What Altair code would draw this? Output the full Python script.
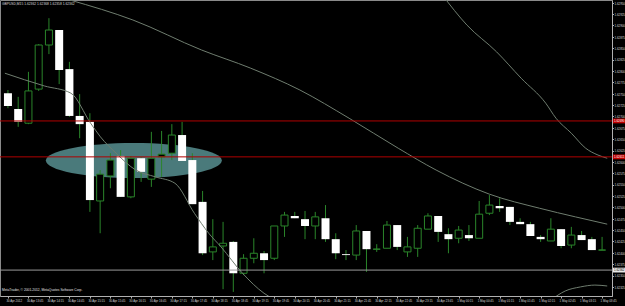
import json
import altair as alt
import pandas as pd

# ---------------- data ----------------
bar_index = list(range(59))
open_ = [1.62751, 1.62716, 1.62685, 1.62760, 1.62857, 1.62890, 1.62804, 1.62701, 1.62688, 1.62514,
         1.62569, 1.62613, 1.62523, 1.62608, 1.62562, 1.62611, 1.62619, 1.62659, 1.62604, 1.62512,
         1.62402, 1.62415, 1.62424, 1.62355, 1.62388, 1.62399, 1.62388, 1.62459, 1.62481, 1.62474,
         1.62459, 1.62476, 1.62430, 1.62397, 1.62395, 1.62448, 1.62408, 1.62410, 1.62461, 1.62402,
         1.62410, 1.62452, 1.62481, 1.62441, 1.62432, 1.62439, 1.62432, 1.62487, 1.62503, 1.62501,
         1.62468, 1.62463, 1.62435, 1.62426, 1.62452, 1.62417, 1.62439, 1.62430, 1.62406]
high = [1.62758, 1.62743, 1.62798, 1.62859, 1.62916, 1.62890, 1.62820, 1.62749, 1.62707, 1.62582,
        1.62619, 1.62626, 1.62613, 1.62611, 1.62666, 1.62668, 1.62683, 1.62688, 1.62619, 1.62536,
        1.62474, 1.62468, 1.62426, 1.62397, 1.62432, 1.62404, 1.62459, 1.62490, 1.62490, 1.62492,
        1.62490, 1.62505, 1.62443, 1.62406, 1.62461, 1.62448, 1.62419, 1.62470, 1.62461, 1.62435,
        1.62461, 1.62487, 1.62481, 1.62454, 1.62459, 1.62461, 1.62514, 1.62527, 1.62520, 1.62501,
        1.62476, 1.62468, 1.62439, 1.62476, 1.62452, 1.62457, 1.62448, 1.62435, 1.62435]
low = [1.62718, 1.62677, 1.62683, 1.62756, 1.62837, 1.62771, 1.62699, 1.62652, 1.62490, 1.62443,
       1.62542, 1.62523, 1.62520, 1.62556, 1.62545, 1.62567, 1.62604, 1.62602, 1.62507, 1.62395,
       1.62384, 1.62320, 1.62314, 1.62351, 1.62377, 1.62355, 1.62384, 1.62435, 1.62476, 1.62430,
       1.62430, 1.62424, 1.62386, 1.62384, 1.62384, 1.62358, 1.62402, 1.62410, 1.62406, 1.62391,
       1.62391, 1.62452, 1.62424, 1.62399, 1.62421, 1.62426, 1.62432, 1.62483, 1.62490, 1.62461,
       1.62463, 1.62437, 1.62424, 1.62426, 1.62410, 1.62410, 1.62428, 1.62406, 1.62406]
close = [1.62723, 1.62688, 1.62756, 1.62857, 1.62890, 1.62802, 1.62701, 1.62683, 1.62516, 1.62573,
         1.62604, 1.62523, 1.62608, 1.62578, 1.62608, 1.62617, 1.62659, 1.62602, 1.62507, 1.62399,
         1.62413, 1.62421, 1.62355, 1.62388, 1.62399, 1.62384, 1.62459, 1.62483, 1.62476, 1.62459,
         1.62479, 1.62430, 1.62399, 1.62395, 1.62448, 1.62408, 1.62408, 1.62461, 1.62413, 1.62413,
         1.62454, 1.62481, 1.62446, 1.62430, 1.62450, 1.62432, 1.62485, 1.62505, 1.62498, 1.62468,
         1.62463, 1.62437, 1.62430, 1.62452, 1.62415, 1.62439, 1.62428, 1.62406, 1.62406]

# Bollinger-style bands (bar position, price)
mid_i = [6.05, 12.2, 18.9, 23.7, 28.5, 33.3, 38.1, 41.8, 47.0, 51.9, 55.4, 58.5]
mid_p = [1.62956, 1.62912, 1.62846, 1.62806, 1.62758, 1.62696, 1.62630, 1.62582, 1.62529, 1.62498, 1.62479, 1.62463]
up_i = [42.4, 44.8, 47.7, 50.1, 52.5, 53.5, 55.0, 56.4, 57.6, 58.5]
up_p = [1.62967, 1.62901, 1.62842, 1.62784, 1.62729, 1.62696, 1.62663, 1.62630, 1.62615, 1.62608]
lo1_i = [-0.3, 3.55, 6.15, 8.07, 9.03, 10.56, 12.48, 14.4, 16.3, 18.2, 19.6, 20.8, 22.9, 25.0, 26.1]
lo1_p = [1.62795, 1.62767, 1.62751, 1.62685, 1.62655, 1.62619, 1.62582, 1.62567, 1.62553, 1.62487, 1.62443, 1.62413, 1.62355, 1.62311, 1.62296]
lo2_i = [53.0, 54.4, 55.9, 57.3, 58.5]
lo2_p = [1.62296, 1.62316, 1.62325, 1.62329, 1.62327]

red_levels = [1.62690, 1.62611]
gray_level = [1.62362]

price_ticks = [1.62950, 1.62925, 1.62900, 1.62875, 1.62850, 1.62825, 1.62800, 1.62775, 1.62750,
               1.62725, 1.62700, 1.62675, 1.62650, 1.62625, 1.62600, 1.62575, 1.62550, 1.62525,
               1.62500, 1.62475, 1.62450, 1.62425, 1.62400, 1.62375, 1.62350, 1.62325]
time_labels = ["30 Apr 2012", "30 Apr 13:45", "30 Apr 14:15", "30 Apr 14:45", "30 Apr 15:15",
               "30 Apr 15:45", "30 Apr 16:15", "30 Apr 16:45", "30 Apr 17:15", "30 Apr 17:45",
               "30 Apr 18:15", "30 Apr 18:45", "30 Apr 19:15", "30 Apr 19:45", "30 Apr 20:15",
               "30 Apr 20:45", "30 Apr 21:15", "30 Apr 21:45", "30 Apr 22:15", "30 Apr 22:45",
               "30 Apr 23:15", "30 Apr 23:45", "1 May 00:15", "1 May 00:45", "1 May 01:15",
               "1 May 01:45", "1 May 02:15", "1 May 02:45", "1 May 03:15", "1 May 03:45"]
time_label_bars = list(range(0, 59, 2))

ellipse_center_i = [12.29]
ellipse_center_p = [1.62603]

title_text = "GBPUSD,M15  1.62362 1.62368 1.62358 1.62362"
copyright_text = "MetaTrader, \u00a9 2001-2012, MetaQuotes Software Corp."

# ---------------- tables ----------------
candles = pd.DataFrame({"i": bar_index, "open": open_, "high": high, "low": low, "close": close})
candles["bull"] = candles["close"] >= candles["open"]
bull = candles[candles["bull"]]
bear = candles[~candles["bull"]]

bands = pd.concat([
    pd.DataFrame({"i": mid_i, "p": mid_p, "seg": "mid"}),
    pd.DataFrame({"i": up_i, "p": up_p, "seg": "up"}),
    pd.DataFrame({"i": lo1_i, "p": lo1_p, "seg": "lo1"}),
    pd.DataFrame({"i": lo2_i, "p": lo2_p, "seg": "lo2"}),
])

W, H = 612, 296
GREEN = "#2a852a"
FONT = "Liberation Sans"
AXFS = 2.9
TXFS = 3.3

xs = alt.Scale(domain=[-0.288, 58.48], nice=False, zero=False)
ys = alt.Scale(domain=[1.62305, 1.62956], nice=False, zero=False)

label_expr = json.dumps(time_labels) + "[round(datum.value / 2)]"

x_axis = alt.Axis(orient="bottom", values=time_label_bars, labelExpr=label_expr, labelAlign="left",
                  labelOffset=-2, labelFontSize=AXFS, labelFont=FONT, labelColor="#d8d8d8",
                  tickColor="#b0b0b0", tickSize=2, domainColor="#b0b0b0", labelPadding=1.5,
                  grid=False, title=None, labelOverlap=False, labelFlush=False, labelBound=False)
y_axis = alt.Axis(orient="right", values=price_ticks, format=".5f", labelAlign="left",
                  labelFontSize=AXFS, labelFont=FONT, labelColor="#d8d8d8", tickColor="#b0b0b0",
                  tickSize=1.5, domainColor="#b0b0b0", labelPadding=0.5, grid=False, title=None,
                  labelOverlap=False, labelFlush=False, labelBound=False)


def X(field):
    return alt.X(field, scale=xs, axis=x_axis)


def Y(field):
    return alt.Y(field, scale=ys, axis=y_axis)


ellipse_path = "M-1,0 A1,0.2 0 1,0 1,0 A1,0.2 0 1,0 -1,0 Z"
ellipse = alt.Chart(pd.DataFrame({"i": ellipse_center_i, "p": ellipse_center_p})).mark_point(
    shape=ellipse_path, size=176 * 176, filled=True, color="#4a7a7b", opacity=1, strokeWidth=0
).encode(x=X("i:Q"), y=Y("p:Q"))

wicks = alt.Chart(candles).mark_rule(color=GREEN, strokeWidth=1).encode(
    x=X("i:Q"), y=Y("low:Q"), y2="high:Q",
)

bull_bodies = alt.Chart(bull).mark_bar(width=7, fill="black", stroke=GREEN, strokeWidth=1).encode(
    x=X("i:Q"), y=Y("open:Q"), y2="close:Q"
)
bear_bodies = alt.Chart(bear).mark_bar(width=8, fill="white", strokeWidth=0).encode(
    x=X("i:Q"), y=Y("open:Q"), y2="close:Q"
)

band_lines = alt.Chart(bands).mark_line(color="#6f7d6f", strokeWidth=1, clip=True,
                                        interpolate="monotone").encode(
    x=X("i:Q"), y=Y("p:Q"), detail="seg:N"
)

red_lines = alt.Chart(pd.DataFrame({"p": red_levels})).mark_rule(color="#b00000", strokeWidth=1).encode(
    y=Y("p:Q")
)
gray_line = alt.Chart(pd.DataFrame({"p": gray_level})).mark_rule(color="#9a9a9a", strokeWidth=1).encode(
    y=Y("p:Q")
)

box_path = "M-1,-0.4 L1,-0.4 L1,0.4 L-1,0.4 Z"
red_boxes = alt.Chart(pd.DataFrame({"p": red_levels})).mark_point(
    shape=box_path, size=144, filled=True, color="#c00000", opacity=1, strokeWidth=0
).encode(x=alt.value(619), y=Y("p:Q"))
red_texts = alt.Chart(pd.DataFrame({"p": red_levels})).mark_text(
    align="left", baseline="middle", fontSize=AXFS, font=FONT, color="white"
).encode(x=alt.value(614), y=Y("p:Q"), text=alt.Text("p:Q", format=".5f"))
gray_boxes = alt.Chart(pd.DataFrame({"p": gray_level})).mark_point(
    shape=box_path, size=144, filled=True, color="#e8e8e8", opacity=1, strokeWidth=0
).encode(x=alt.value(619), y=Y("p:Q"))
gray_texts = alt.Chart(pd.DataFrame({"p": gray_level})).mark_text(
    align="left", baseline="middle", fontSize=AXFS, font=FONT, color="black"
).encode(x=alt.value(614), y=Y("p:Q"), text=alt.Text("p:Q", format=".5f"))

title = alt.Chart(pd.DataFrame({"t": [title_text]})).mark_text(
    align="left", baseline="middle", fontSize=TXFS, font=FONT, color="#d8d8d8"
).encode(x=alt.value(2), y=alt.value(4), text="t:N")
copyright_mark = alt.Chart(pd.DataFrame({"t": [copyright_text]})).mark_text(
    align="left", baseline="middle", fontSize=TXFS, font=FONT, color="#e0e0e0"
).encode(x=alt.value(2), y=alt.value(290), text="t:N")

chart = alt.layer(
    ellipse, wicks, bull_bodies, bear_bodies, band_lines, red_lines, gray_line,
    red_boxes, red_texts, gray_boxes, gray_texts, title, copyright_mark
).properties(
    width=W, height=H,
    autosize=alt.AutoSizeParams(type="none"),
    padding={"left": 0, "top": 0, "right": 13, "bottom": 10},
).configure(background="black").configure_view(stroke="#8a8a8a", strokeWidth=1)

chart.save("out.html", embed_options={"renderer": "svg", "actions": False})
